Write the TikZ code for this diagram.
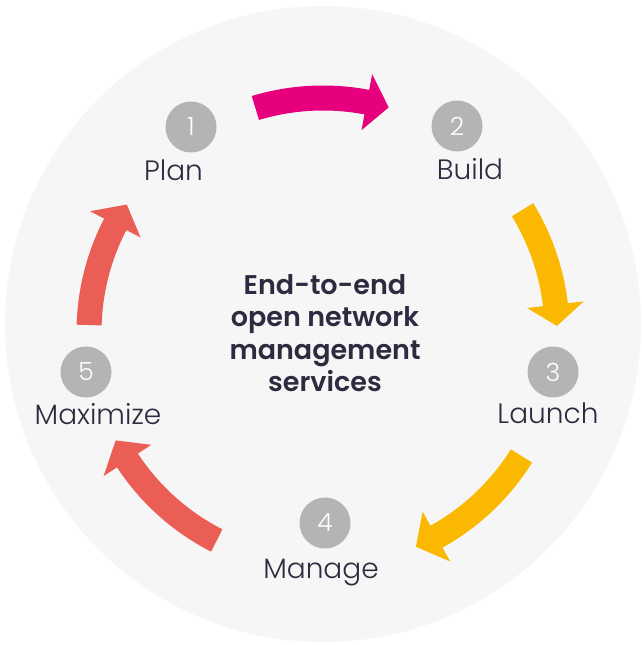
\documentclass[tikz,border=0pt]{standalone}
\usepackage{fontspec}
\setmainfont{Poppins}
\newfontfamily\lightf{Poppins Light}
\newfontfamily\semif{Poppins SemiBold}
\usetikzlibrary{calc}
\definecolor{bgc}{HTML}{F6F6F6}
\definecolor{magc}{HTML}{E6007E}
\definecolor{yelc}{HTML}{FBB800}
\definecolor{redc}{HTML}{EB5E55}
\definecolor{numc}{HTML}{B3B4B6}
\definecolor{txtc}{HTML}{2E2A3F}
\newcommand{\cycarrow}[4]{%
  \fill[#1] ($(C)+(#2:246.5pt)$) arc[start angle=#2, end angle=#3, radius=246.5pt]
    -- ($(C)+(#3:262.5pt)$) -- ($(C)+(#4:234pt)$) -- ($(C)+(#3:205.5pt)$)
    -- ($(C)+(#3:221.5pt)$) arc[start angle=#3, end angle=#2, radius=221.5pt] -- cycle;}
\begin{document}
\begin{tikzpicture}[x=1pt,y=1pt,
  numdot/.style={circle, fill=numc, minimum size=51pt, inner sep=0pt, text=white, font=\lightf\fontsize{25}{25}\selectfont},
  stagelbl/.style={anchor=base, text=txtc, inner sep=0pt, font=\lightf\fontsize{28}{28}\selectfont}]
\useasboundingbox (0,0) rectangle (641,645);
\fill[bgc] (323,321) circle[radius=318pt];
\coordinate (C) at (323,313);
\cycarrow{magc}{106.8}{79.2}{73.7}
\cycarrow{yelc}{31.5}{6.7}{1.5}
\cycarrow{yelc}{-32}{-61}{-66.6}
\cycarrow{redc}{-117}{-146.7}{-152.4}
\cycarrow{redc}{178.3}{152.6}{147}
\node[numdot] (n1) at (191,518) {1};
\node[numdot] (n2) at (457,519) {2};
\node[numdot] (n3) at (553,273) {3};
\node[numdot] (n4) at (325,122) {4};
\node[numdot] (n5) at (86,273) {5};
\node[stagelbl] (l1) at (173.5,464) {Plan};
\node[stagelbl] (l2) at (470,465) {Build};
\node[stagelbl] (l3) at (548,221) {Launch};
\node[stagelbl] (l4) at (321,66) {Manage};
\node[stagelbl] (l5) at (98,220) {Maximize};
\node[align=center, text=txtc, inner sep=0pt, font=\semif\fontsize{27}{32.5}\selectfont] (title) at (325,312)
  {End-to-end\\open network\\management\\services};
\end{tikzpicture}
\end{document}
